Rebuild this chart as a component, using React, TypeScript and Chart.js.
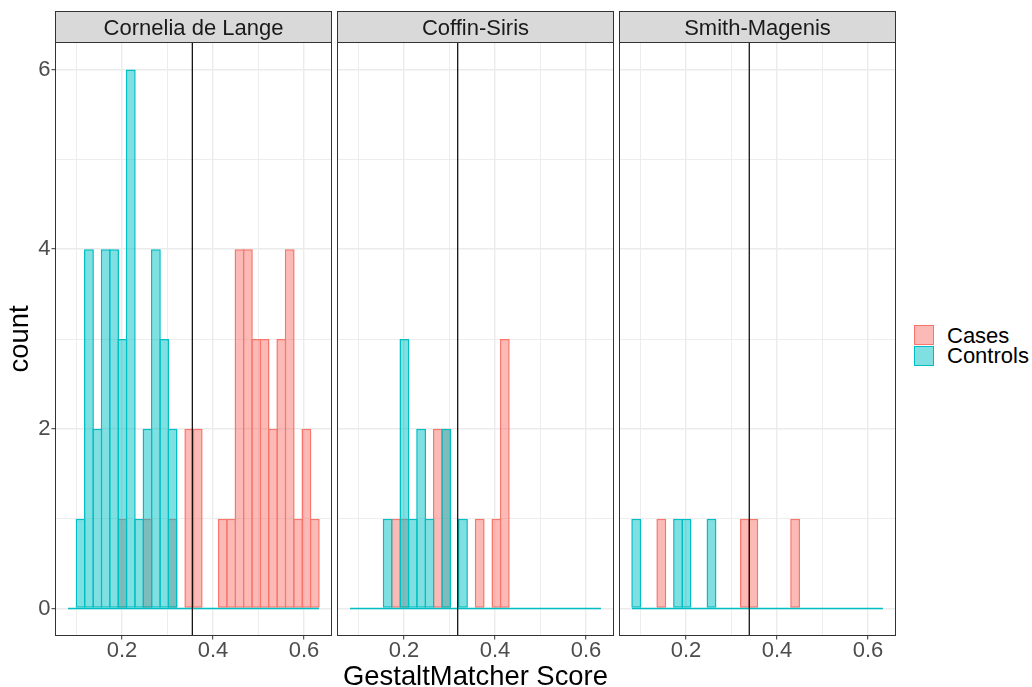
import React, { useEffect, useRef } from 'react';
import { Chart, registerables } from 'chart.js';

Chart.register(...registerables);

// ---------- data ----------
const facetLabels = ['Cornelia de Lange', 'Coffin-Siris', 'Smith-Magenis'];
const seriesNames = ['Cases', 'Controls'];

// histogram bins (30 bins, shared by all facets)
const binStart = 0.0814;
const binWidth = 0.01838;
const binCount = 30;

// counts per bin, bin 0 .. bin 29
const casesCdL = [0, 0, 0, 0, 0, 0, 1, 0, 0, 1, 0, 0, 1, 0, 2, 2, 0, 0, 1, 1, 4, 4, 3, 3, 2, 3, 4, 1, 2, 1];
const controlsCdL = [0, 1, 4, 2, 4, 4, 3, 6, 1, 2, 4, 3, 2, 0, 0, 0, 0, 0, 0, 0, 0, 0, 0, 0, 0, 0, 0, 0, 0, 0];
const casesCS = [0, 0, 0, 0, 0, 1, 1, 0, 0, 0, 2, 2, 0, 0, 0, 1, 0, 1, 3, 0, 0, 0, 0, 0, 0, 0, 0, 0, 0, 0];
const controlsCS = [0, 0, 0, 0, 1, 0, 3, 1, 2, 1, 0, 2, 0, 1, 0, 0, 0, 0, 0, 0, 0, 0, 0, 0, 0, 0, 0, 0, 0, 0];
const casesSM = [0, 0, 0, 1, 0, 0, 0, 0, 0, 0, 0, 0, 0, 1, 1, 0, 0, 0, 0, 1, 0, 0, 0, 0, 0, 0, 0, 0, 0, 0];
const controlsSM = [1, 0, 0, 0, 0, 1, 1, 0, 0, 1, 0, 0, 0, 0, 0, 0, 0, 0, 0, 0, 0, 0, 0, 0, 0, 0, 0, 0, 0, 0];

const casesByFacet = [casesCdL, casesCS, casesSM];
const controlsByFacet = [controlsCdL, controlsCS, controlsSM];

// vertical threshold line per facet
const thresholds = [0.3545, 0.318, 0.339];

// ticks
const xGridValues = [0.1, 0.2, 0.3, 0.4, 0.5, 0.6];
const xLabelValues = [0.2, 0.4, 0.6];
const yGridValues = [0, 1, 2, 3, 4, 5, 6];
const yLabelValues = [0, 2, 4, 6];
const yDataMax = 6;

const xTitle = 'GestaltMatcher Score';
const yTitle = 'count';

// ---------- styles ----------
const FONT = "'Liberation Sans', Arial, Helvetica, sans-serif";
const CASES_LINE = '#F8766D';
const CASES_FILL = 'rgba(248,118,109,0.5)';
const CONTROLS_LINE = '#00BFC4';
const CONTROLS_FILL = 'rgba(0,191,196,0.5)';
const GRID = '#EBEBEB';
const DARK = '#333333';

const W = 1032;
const H = 687;
const PANEL_TOP = 42.5;
const PANEL_BOTTOM = 635.5;
const STRIP_H = 31;
const canvasLefts = [0, 334, 616];
const canvasWidths = [334, 282, 282];
const padLefts = [0, 3.5, 3.5];
const PAD_RIGHT = 2.5;

Chart.defaults.font.family = FONT;

const binEdgesStart = binStart;
const binEdgesEnd = binStart + binWidth * binCount;
const binCenters = Array.from({ length: binCount }, (_, i) => binStart + binWidth * (i + 0.5));
const xRange = binEdgesEnd - binEdgesStart;
const xMin = binEdgesStart - 0.05 * xRange;
const xMax = binEdgesEnd + 0.05 * xRange;
const yMin = -0.05 * yDataMax;
const yMax = yDataMax * 1.05;

const near = (a: number, list: number[]) => list.some((m) => Math.abs(m - a) < 1e-9);

const panelDecor = {
  id: 'panelDecor',
  afterDraw(chart: any, _args: any, opts: any) {
    const { ctx, chartArea: a } = chart;
    ctx.save();
    ctx.fillStyle = '#D9D9D9';
    ctx.fillRect(a.left, a.top - STRIP_H, a.right - a.left, STRIP_H);
    ctx.strokeStyle = DARK;
    ctx.lineWidth = 1;
    ctx.strokeRect(a.left, a.top - STRIP_H, a.right - a.left, STRIP_H);
    ctx.strokeRect(a.left, a.top, a.right - a.left, a.bottom - a.top);
    ctx.fillStyle = '#1A1A1A';
    ctx.font = `22px ${FONT}`;
    ctx.textAlign = 'center';
    ctx.textBaseline = 'alphabetic';
    ctx.fillText(opts.label, (a.left + a.right) / 2, a.top - 7.7);
    ctx.restore();
  },
};

function Panel({ index }: { index: number }) {
  const ref = useRef<HTMLCanvasElement>(null);
  useEffect(() => {
    const first = index === 0;
    const cases = casesByFacet[index];
    const controls = controlsByFacet[index];
    const chart = new Chart(ref.current as HTMLCanvasElement, {
      type: 'bar',
      data: {
        datasets: [
          {
            type: 'line',
            label: 'threshold',
            data: [
              { x: thresholds[index], y: yMin },
              { x: thresholds[index], y: yMax },
            ],
            borderColor: '#000000',
            borderWidth: 1.2,
            pointRadius: 0,
            order: 0,
          } as any,
          {
            type: 'line',
            label: 'baseline',
            data: [
              { x: binEdgesStart, y: 0 },
              { x: binEdgesEnd, y: 0 },
            ],
            borderColor: CONTROLS_LINE,
            borderWidth: 1.4,
            pointRadius: 0,
            order: 1,
          } as any,
          {
            label: seriesNames[1],
            data: binCenters.map((x, i) => ({ x, y: controls[i] })),
            backgroundColor: CONTROLS_FILL,
            borderColor: CONTROLS_LINE,
            borderWidth: 1.5,
            borderSkipped: false,
            barPercentage: 1.18,
            categoryPercentage: 1,
            grouped: false,
            order: 2,
          } as any,
          {
            label: seriesNames[0],
            data: binCenters.map((x, i) => ({ x, y: cases[i] })),
            backgroundColor: CASES_FILL,
            borderColor: CASES_LINE,
            borderWidth: 1.5,
            borderSkipped: false,
            barPercentage: 1.18,
            categoryPercentage: 1,
            grouped: false,
            order: 3,
          } as any,
        ],
      },
      options: {
        responsive: false,
        animation: false,
        devicePixelRatio: 1,
        events: [],
        layout: {
          padding: { left: padLefts[index], right: PAD_RIGHT, top: PANEL_TOP, bottom: 0 },
        },
        plugins: {
          legend: { display: false },
          tooltip: { enabled: false },
          title: { display: false },
          panelDecor: { label: facetLabels[index] },
        } as any,
        scales: {
          x: {
            type: 'linear',
            min: xMin,
            max: xMax,
            offset: false,
            border: { display: false },
            grid: {
              offset: false,
              color: GRID,
              lineWidth: (c: any) => (c.tick && near(c.tick.value, xLabelValues) ? 1.4 : 0.9),
              tickColor: (c: any) => (c.tick && near(c.tick.value, xLabelValues) ? DARK : 'rgba(0,0,0,0)'),
              tickLength: 4,
              tickWidth: 1,
            },
            ticks: {
              autoSkip: false,
              maxRotation: 0,
              color: '#4D4D4D',
              padding: 0,
              font: { size: 22, lineHeight: 1 },
              callback: (v: any) => (near(Number(v), xLabelValues) ? Number(v).toFixed(1) : ''),
            },
            afterBuildTicks: (s: any) => {
              s.ticks = xGridValues.map((v) => ({ value: v }));
            },
            afterFit: (s: any) => {
              s.height = H - PANEL_BOTTOM;
            },
          },
          y: {
            type: 'linear',
            min: yMin,
            max: yMax,
            border: { display: false },
            grid: {
              color: GRID,
              lineWidth: (c: any) => (c.tick && near(c.tick.value, yLabelValues) ? 1.4 : 0.9),
              tickColor: (c: any) => (c.tick && near(c.tick.value, yLabelValues) ? DARK : 'rgba(0,0,0,0)'),
              tickLength: 4,
              tickWidth: 1,
              drawTicks: first,
            },
            ticks: {
              display: first,
              color: '#4D4D4D',
              padding: 1,
              font: { size: 22 },
              callback: (v: any) => (near(Number(v), yLabelValues) ? String(v) : ''),
            },
            title: {
              display: first,
              text: yTitle,
              color: '#000000',
              font: { size: 27.4 },
              padding: { top: 4, bottom: 0 },
            },
            afterBuildTicks: (s: any) => {
              s.ticks = yGridValues.map((v) => ({ value: v }));
            },
            afterFit: (s: any) => {
              s.width = first ? 55.5 : 0;
            },
          },
        },
      } as any,
      plugins: [panelDecor as any],
    });
    return () => chart.destroy();
  }, [index]);
  return (
    <canvas
      ref={ref}
      width={canvasWidths[index]}
      height={H}
      style={{ position: 'absolute', left: canvasLefts[index], top: 0, width: canvasWidths[index], height: H }}
    />
  );
}

const legendColors = [
  { fill: CASES_FILL, line: CASES_LINE },
  { fill: CONTROLS_FILL, line: CONTROLS_LINE },
];

export default function App() {
  return (
    <div
      style={{
        position: 'absolute',
        left: 0,
        top: 0,
        width: W,
        height: H,
        overflow: 'hidden',
        background: '#FFFFFF',
        fontFamily: FONT,
      }}
    >
      {facetLabels.map((_, i) => (
        <Panel key={i} index={i} />
      ))}
      <div
        style={{
          position: 'absolute',
          left: 0,
          width: 951,
          top: 661,
          textAlign: 'center',
          fontSize: 27.4,
          lineHeight: '30.6px',
          color: '#000000',
          whiteSpace: 'nowrap',
        }}
      >
        {xTitle}
      </div>
      {seriesNames.map((name, i) => (
        <React.Fragment key={name}>
          <div
            style={{
              position: 'absolute',
              left: 914,
              top: 325 + i * 21,
              width: 19.5,
              height: 19.8,
              boxSizing: 'border-box',
              border: `1.4px solid ${legendColors[i].line}`,
              background: legendColors[i].fill,
            }}
          />
          <div
            style={{
              position: 'absolute',
              left: 947,
              top: 324.7 + i * 20,
              fontSize: 22,
              lineHeight: '22px',
              color: '#000000',
              whiteSpace: 'nowrap',
            }}
          >
            {name}
          </div>
        </React.Fragment>
      ))}
    </div>
  );
}
